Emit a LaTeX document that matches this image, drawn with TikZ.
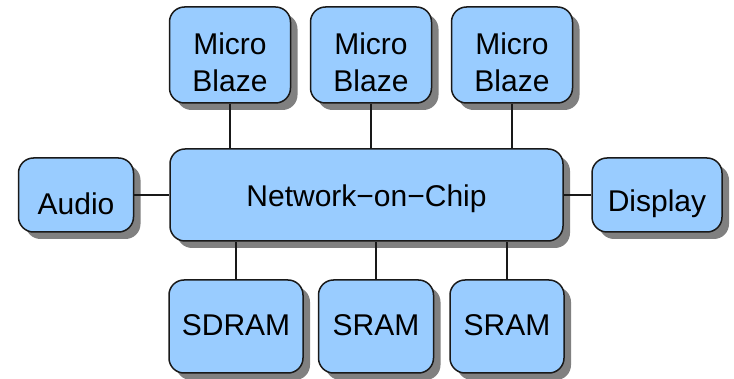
\documentclass[tikz,border=0pt]{standalone}
\usepackage{fontspec}
\setmainfont{Liberation Sans}
\usetikzlibrary{shadows}
\definecolor{boxblue}{HTML}{99CCFF}
\definecolor{shadowgray}{HTML}{808080}
\tikzset{
    block/.style={rectangle, draw=black!90, line width=1.5pt, rounded corners=15pt, fill=boxblue,
        align=center, inner sep=0pt, font=\fontsize{30}{37}\selectfont,
        drop shadow={shadow xshift=7pt, shadow yshift=-7pt, fill=shadowgray, opacity=1}},
    sink/.style={text height=#1, text depth=0pt},
    link/.style={draw=black!90, line width=1.1pt}
}
\begin{document}
\begin{tikzpicture}[x=1pt, y=-1pt]
    \useasboundingbox (0,0) rectangle (734,379);

    \node[block, sink=23.4pt, minimum width=393, minimum height=92] (noc) at (366.5,195) {Network−on−Chip};

    \node[block, sink=74pt, minimum width=121, minimum height=96] (mb1) at (230,55) {Micro\\Blaze};
    \node[block, sink=74pt, minimum width=121, minimum height=96] (mb2) at (371,55) {Micro\\Blaze};
    \node[block, sink=74pt, minimum width=121, minimum height=96] (mb3) at (512,55) {Micro\\Blaze};

    \node[block, sink=38.4pt, minimum width=115, minimum height=74] (audio) at (76,195) {Audio};
    \node[block, sink=33.4pt, minimum width=130, minimum height=74] (display) at (657,195) {Display};

    \node[block, sink=17.4pt, minimum width=134, minimum height=93] (sdram) at (236,326.5) {SDRAM};
    \node[block, sink=17.4pt, minimum width=115, minimum height=93] (sram1) at (376,326.5) {SRAM};
    \node[block, sink=17.4pt, minimum width=114, minimum height=93] (sram2) at (507,326.5) {SRAM};

    \begin{scope}[on background layer/.try]
    \path[link] (mb1) -- (mb1 |- noc.north)
                (mb2) -- (mb2 |- noc.north)
                (mb3) -- (mb3 |- noc.north)
                (audio) -- (noc)
                (noc) -- (display)
                (sdram) -- (sdram |- noc.south)
                (sram1) -- (sram1 |- noc.south)
                (sram2) -- (sram2 |- noc.south);
    \end{scope}
\end{tikzpicture}
\end{document}
